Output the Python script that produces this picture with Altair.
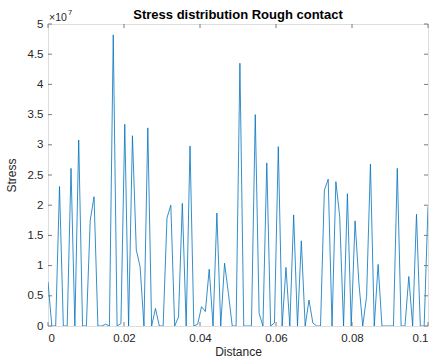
import altair as alt
import numpy as np
import pandas as pd

# Stress values, in units of 1e7
stress_e7 = [
    0.73, 0, 0, 2.31, 0, 0, 2.61, 0, 3.08, 0,
    0, 1.75, 2.14, 0, 0, 0.03, 0, 4.82, 0, 0.04,
    3.34, 0, 3.15, 1.26, 0.98, 0, 3.28, 0, 0.29, 0,
    0, 1.79, 2.0, 0, 0.15, 2.03, 0, 2.98, 0, 0.03,
    0.32, 0.24, 0.94, 0, 1.87, 0, 1.04, 0.54, 0, 0,
    4.35, 0, 0, 0, 3.5, 0.21, 0, 2.7, 0, 0.05,
    2.97, 0, 0.97, 0, 1.84, 0, 1.41, 0, 0.43, 0.05,
    0, 0, 2.25, 2.43, 0, 2.39, 1.81, 0, 2.19, 0,
    1.74, 0.71, 0, 0.49, 2.68, 0, 1.02, 0, 0, 0,
    0, 2.61, 0, 0, 0.82, 0, 1.85, 0, 0, 1.98,
]
distance = np.linspace(0, 0.1, len(stress_e7))

x_ticks = [0, 0.02, 0.04, 0.06, 0.08, 0.1]
y_ticks_e7 = [0, 0.5, 1, 1.5, 2, 2.5, 3, 3.5, 4, 4.5, 5]
title_text = "Stress distribution Rough contact"

W, H = 380, 302
FONT = "Liberation Sans"
AX = "#262626"
BOX = "#7a7a7a"

df = pd.DataFrame({"Distance": distance, "Stress": np.array(stress_e7) * 1e7})
df_xt = pd.DataFrame({"Distance": x_ticks})
df_yt = pd.DataFrame({"Stress": [v * 1e7 for v in y_ticks_e7]})

xs = alt.Scale(domain=[0, 0.1], nice=False, zero=False)
ys = alt.Scale(domain=[0, 5e7], nice=False)

x_axis = alt.Axis(values=x_ticks, format="~g", title="Distance",
                  tickSize=0, domain=False, grid=False,
                  labelPadding=6, titlePadding=3,
                  labelFontSize=11.5, titleFontSize=12,
                  titleFontWeight="normal", labelColor=AX, titleColor=AX,
                  labelFont=FONT, titleFont=FONT)
y_axis = alt.Axis(values=[v * 1e7 for v in y_ticks_e7],
                  labelExpr="format(datum.value / 1e7, '~g')",
                  title="Stress", tickSize=0, domain=False, grid=False,
                  labelPadding=5, titlePadding=9,
                  labelFontSize=11.5, titleFontSize=12,
                  titleFontWeight="normal", labelColor=AX, titleColor=AX,
                  labelFont=FONT, titleFont=FONT)

line = alt.Chart(df).mark_line(color="#0072BD", strokeWidth=0.8, clip=True).encode(
    x=alt.X("Distance:Q", scale=xs, axis=x_axis),
    y=alt.Y("Stress:Q", scale=ys, axis=y_axis),
)

tick_len = 4
xt_bottom = alt.Chart(df_xt).mark_rule(color=BOX, strokeWidth=1).encode(
    x=alt.X("Distance:Q", scale=xs, axis=x_axis), y=alt.value(H), y2=alt.value(H - tick_len))
xt_top = alt.Chart(df_xt).mark_rule(color=BOX, strokeWidth=1).encode(
    x=alt.X("Distance:Q", scale=xs, axis=x_axis), y=alt.value(0), y2=alt.value(tick_len))
yt_left = alt.Chart(df_yt).mark_rule(color=BOX, strokeWidth=1).encode(
    y=alt.Y("Stress:Q", scale=ys, axis=y_axis), x=alt.value(0), x2=alt.value(tick_len))
yt_right = alt.Chart(df_yt).mark_rule(color=BOX, strokeWidth=1).encode(
    y=alt.Y("Stress:Q", scale=ys, axis=y_axis), x=alt.value(W), x2=alt.value(W - tick_len))

exp_base = alt.Chart(pd.DataFrame({"s": ["×10"]})).mark_text(
    align="left", baseline="alphabetic", fontSize=10.5, font=FONT, color=AX
).encode(text="s:N", x=alt.value(1), y=alt.value(-3))
exp_pow = alt.Chart(pd.DataFrame({"s": ["7"]})).mark_text(
    align="left", baseline="alphabetic", fontSize=7.5, font=FONT, color=AX
).encode(text="s:N", x=alt.value(20), y=alt.value(-9))
title = alt.Chart(pd.DataFrame({"s": [title_text]})).mark_text(
    align="center", baseline="middle", fontSize=13, fontWeight="bold",
    font=FONT, color="#000000"
).encode(text="s:N", x=alt.value(W / 2), y=alt.value(-9))

chart = alt.layer(line, xt_bottom, xt_top, yt_left, yt_right,
                  exp_base, exp_pow, title).properties(
    width=W, height=H,
    autosize=alt.AutoSizeParams(type="none"),
    padding={"left": 48, "top": 24, "right": 7, "bottom": 37},
).configure_view(stroke=BOX, strokeWidth=1).configure(background="white")

chart.save("out.html", embed_options={"renderer": "svg", "actions": False})
